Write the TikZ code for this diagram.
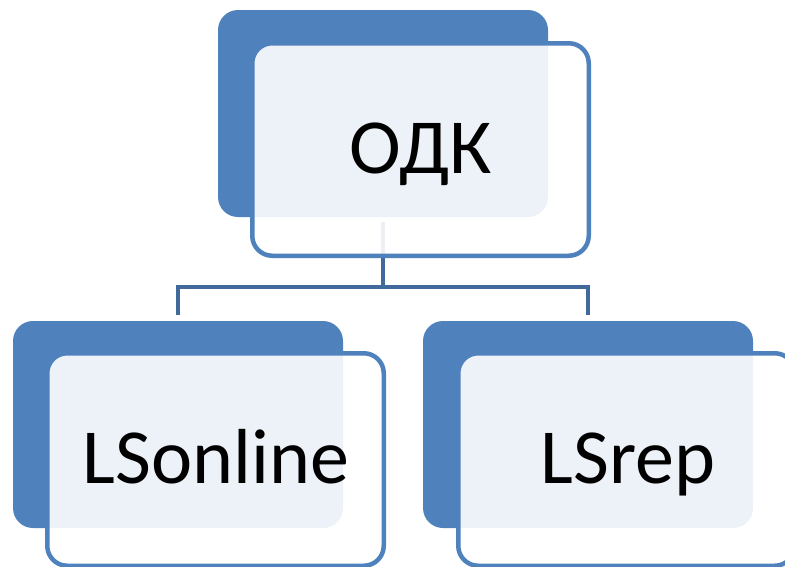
\documentclass[tikz,border=0pt]{standalone}
\usepackage{fontspec}
\setmainfont{Carlito}
\definecolor{accent}{RGB}{79,129,189}
\definecolor{connc}{RGB}{65,105,155}
\tikzset{
  darkbox/.style={rectangle, rounded corners=20pt, fill=accent, draw=none,
    minimum width=330pt, minimum height=207pt, inner sep=0pt, outer sep=0pt},
  frontbox/.style={rectangle, rounded corners=20pt, fill=white, fill opacity=0.9,
    draw=accent, line width=4.5pt, minimum width=336.5pt, minimum height=212.5pt,
    inner sep=0pt, outer sep=0pt},
  label/.style={anchor=base, inner sep=0pt, font=\fontsize{78}{90}\selectfont, text=black},
  conn/.style={draw=connc, line width=4.5pt}
}
\begin{document}
\begin{tikzpicture}[x=1pt,y=-1pt]
\useasboundingbox (0,0) rectangle (785,566);
% connector (behind boxes)
\coordinate (start) at (383,222);
\coordinate (hub) at (383,287);
\coordinate (jl) at (178,315);
\coordinate (jr) at (588,315);
\draw[conn] (start) -- (hub);
\draw[conn] (jl) |- (hub) -| (jr);
% top
\node[darkbox] (topdark) at (383,113.5) {};
\node[frontbox] (topfront) at (420.5,149.5) {};
\node[label] (toptext) at (421,173) {ОДК};
% bottom left
\node[darkbox] (ldark) at (178,424.5) {};
\node[frontbox] (lfront) at (215.5,459.5) {};
\node[label] (ltext) at (216,483) {LSonline};
% bottom right
\node[darkbox] (rdark) at (588,424.5) {};
\node[frontbox] (rfront) at (626.5,459.5) {};
\node[label] (rtext) at (628,483) {LSrep};
\end{tikzpicture}
\end{document}
